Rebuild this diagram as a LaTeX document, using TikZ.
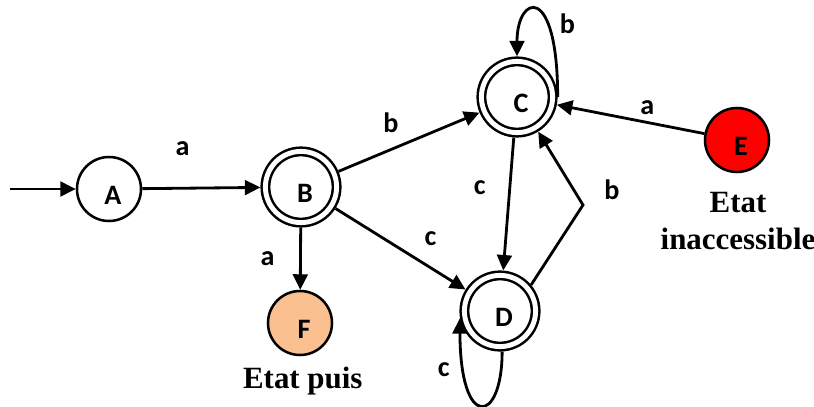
\documentclass[tikz,border=0pt]{standalone}
\usepackage{fontspec}
\usepackage{tikz}
\usetikzlibrary{arrows.meta}
\newfontfamily\carlito{Carlito}
\newfontfamily\tnr{Liberation Serif}
\definecolor{peche}{HTML}{FAC090}

\begin{document}
\begin{tikzpicture}[
    etat/.style={circle, draw=black, line width=1.8pt, minimum size=1.6cm, inner sep=0pt},
    final/.style={etat, double, double distance=3.5pt, minimum size=1.78cm, outer sep=3.6pt},
    lettre/.style={font=\carlito\bfseries\fontsize{20}{24}\selectfont, xshift=0.1cm, yshift=-0.15cm},
    fleche/.style={-{Triangle[length=11pt, width=10.5pt]}, line width=2pt},
    lbl/.style={font=\carlito\bfseries\fontsize{20}{24}\selectfont},
    cmt/.style={font=\tnr\bfseries\fontsize{22}{26}\selectfont, align=center}]
    \useasboundingbox (0,0) rectangle (20.35,10.15);
    \node[etat, label={[lettre]center:A}] (a) at (2.725, 5.425) {};
    \node[final, label={[lettre]center:B}] (b) at (7.525, 5.475) {};
    \node[final, label={[lettre]center:C}] (c) at (12.925, 7.725) {};
    \node[final, label={[lettre]center:D}] (d) at (12.5, 2.375) {};
    \node[etat, fill=red, label={[lettre]center:E}] (e) at (18.425, 6.65) {};
    \node[etat, fill=peche, label={[lettre]center:F}] (f) at (7.5, 2.075) {};
    \node[cmt] (tf) at (7.57, 0.62) {Etat puis};
    \node[cmt] (te) at (18.45, 4.63) {Etat\\inaccessible};
    \coordinate (init) at (0.25, 5.425);
    \coordinate (coin) at (14.575, 5.025);
    \draw[fleche] (init) -- (a);
    \draw[fleche] (a) -- node[lbl, xshift=-0.47cm, yshift=0.98cm] {a} (b);
    \draw[fleche] (b) -- node[lbl, xshift=-0.45cm, yshift=0.48cm] {b} (c);
    \draw[fleche] (b) -- node[lbl, xshift=0.75cm, yshift=0.25cm] {c} (d);
    \draw[fleche] (b) -- node[lbl, xshift=-0.82cm] {a} (f);
    \draw[fleche] (c) -- node[lbl, xshift=-0.72cm, yshift=0.4cm] {c} (d);
    \draw[fleche] (d.40) -- (coin) node[lbl, xshift=0.72cm, yshift=0.38cm] {b} -- (c);
    \draw[fleche] (e) -- node[lbl, xshift=0.42cm, yshift=0.3cm] {a} (c);
    % boucles
    \draw[fleche] (c.east) .. controls +(0,2.875) and +(0,1.55) .. (c.north)
        node[lbl, pos=.25, xshift=0.4cm, yshift=0.25cm] {b};
    \draw[fleche] (d.-87) .. controls +(0,-1.83) and +(0,-2.83) .. (d.190)
        node[lbl, pos=.75, xshift=-0.57cm, yshift=0.28cm] {c};
\end{tikzpicture}
\end{document}
